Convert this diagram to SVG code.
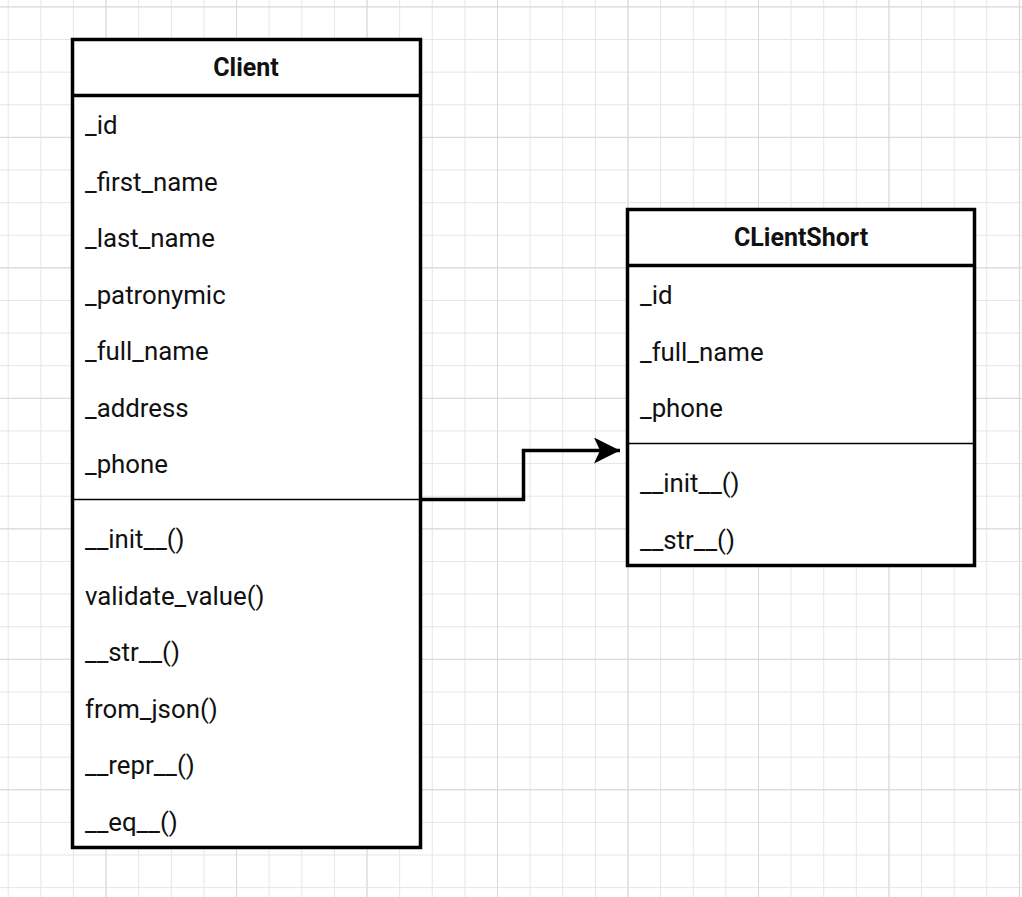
<svg xmlns="http://www.w3.org/2000/svg" width="1022" height="897" viewBox="0 0 1022 897">
<defs>
<pattern id="minor" patternUnits="userSpaceOnUse" x="7.7" y="6.4" width="32.62" height="32.62">
<path d="M0 0H32.62M0 0V32.62" fill="none" stroke="#e6e6e6" stroke-width="2"/>
</pattern>
<pattern id="major" patternUnits="userSpaceOnUse" x="105.56" y="6.4" width="130.48" height="130.48">
<path d="M0 0H130.48M0 0V130.48" fill="none" stroke="#d8d8d8" stroke-width="2"/>
</pattern>
<marker id="arrow" viewBox="0 0 30 30" refX="26" refY="13" markerWidth="30" markerHeight="30" markerUnits="userSpaceOnUse" orient="auto">
<path d="M0 0L26 13L0 26L6 13Z" fill="#000"/>
</marker>
<style>
.box{fill:#fff;stroke:#000;stroke-width:3.5}
.sep{stroke:#000;stroke-width:3.5}
.div{stroke:#000;stroke-width:1.5}
text{font-family:Roboto,"Liberation Sans",sans-serif;font-size:25.8px;fill:#111}
.title{font-weight:bold;text-anchor:middle;font-size:25px}
.edge{fill:none;stroke:#000;stroke-width:3.5}
</style>
</defs>
<rect width="1022" height="897" fill="#fff"/>
<rect width="1022" height="897" fill="url(#minor)"/>
<rect width="1022" height="897" fill="url(#major)"/>

<g id="connectors">
<path class="edge" d="M420 499.5H523.5V450.5H620" marker-end="url(#arrow)"/>
</g>

<g id="Client">
<rect class="box" x="72.5" y="39.5" width="348" height="808"/>
<line class="sep" x1="72.5" y1="95.5" x2="420.5" y2="95.5"/>
<line class="div" x1="72.5" y1="499.5" x2="420.5" y2="499.5"/>
<text class="title" x="246" y="76">Client</text>
<text x="85" y="134">_id</text>
<text x="85" y="190.5">_first_name</text>
<text x="85" y="247">_last_name</text>
<text x="85" y="303.5">_patronymic</text>
<text x="85" y="360">_full_name</text>
<text x="85" y="416.5">_address</text>
<text x="85" y="473">_phone</text>
<text x="85" y="548">__init__()</text>
<text x="85" y="604.5">validate_value()</text>
<text x="85" y="661">__str__()</text>
<text x="85" y="717.5">from_json()</text>
<text x="85" y="774">__repr__()</text>
<text x="85" y="830.5">__eq__()</text>
</g>

<g id="ClientShort">
<rect class="box" x="627.5" y="209.5" width="347" height="356"/>
<line class="sep" x1="627.5" y1="265.5" x2="974.5" y2="265.5"/>
<line class="div" x1="627.5" y1="443.5" x2="974.5" y2="443.5"/>
<text class="title" x="801" y="246">CLientShort</text>
<text x="640" y="304">_id</text>
<text x="640" y="360.5">_full_name</text>
<text x="640" y="417">_phone</text>
<text x="640" y="492">__init__()</text>
<text x="640" y="548.5">__str__()</text>
</g>
</svg>
